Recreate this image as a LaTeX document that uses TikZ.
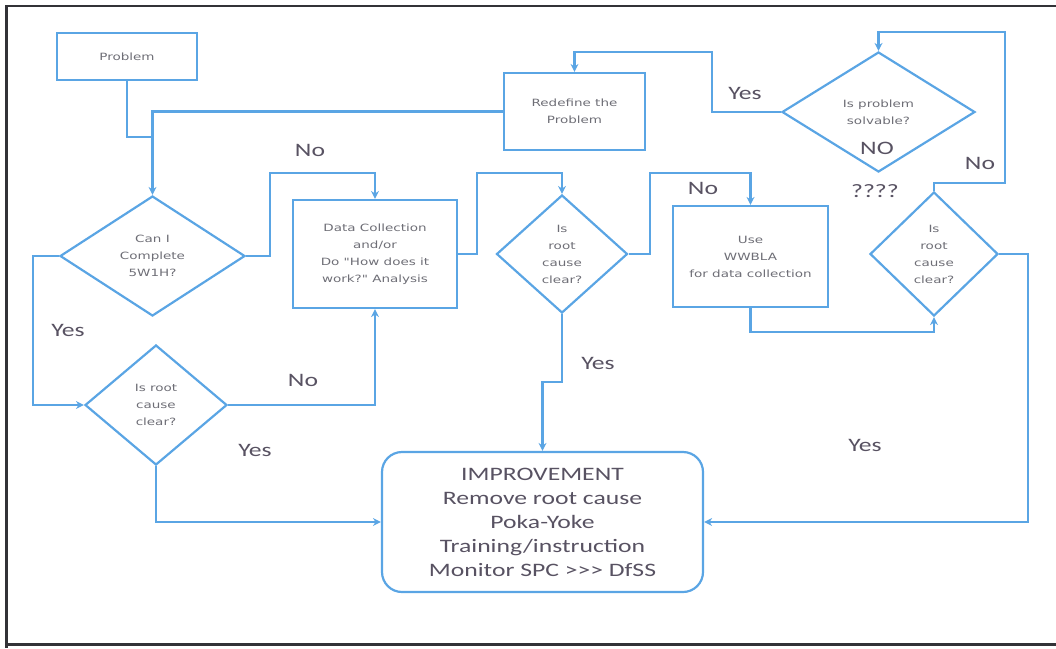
\documentclass[tikz,border=0pt]{standalone}
\usepackage{fontspec}
\usetikzlibrary{shapes.geometric,arrows.meta}
\newfontfamily\boxfont[FakeStretch=1.35]{DejaVu Sans}
\newfontfamily\tagfont[FakeStretch=1.35]{Carlito}
\definecolor{flow}{RGB}{90,165,228}
\definecolor{boxtext}{RGB}{110,110,118}
\definecolor{tagtext}{RGB}{88,82,98}
\definecolor{frame}{RGB}{50,50,55}
\begin{document}
\begin{tikzpicture}[x=1pt,y=-1pt,
  conn/.style={draw=flow,line width=2.2pt},
  arrow/.style={conn,-{Stealth[length=8pt,width=8pt]}},
  smalltext/.style={font=\boxfont\fontsize{10}{17}\selectfont,text=boxtext,align=center},
  stepbox/.style={draw=flow,line width=2.2pt,rectangle,inner sep=0pt,smalltext},
  decision/.style={draw=flow,line width=2.2pt,diamond,inner sep=0pt,smalltext},
  tag/.style={font=\tagfont\fontsize{19}{22}\selectfont,text=tagtext,inner sep=0pt},
]
\useasboundingbox (0,0) rectangle (1056,648);

% page frame
\draw[frame,line width=2pt] (6,6) -- (1056,6);
\draw[frame,line width=3pt] (6,5) -- (6,648);
\draw[frame,line width=3pt] (6,644) -- (1056,644);

% process boxes
\node[stepbox,minimum width=140pt,minimum height=47pt] (problem) at (127,56.5) {Problem};
\node[stepbox,minimum width=141pt,minimum height=77pt] (redef) at (574.5,111.5) {Redefine the\\Problem};
\node[stepbox,minimum width=164pt,minimum height=108pt] (data) at (375,254) {Data Collection\\and/or\\Do "How does it\\work?" Analysis};
\node[stepbox,minimum width=155pt,minimum height=101pt] (wwbla) at (750.5,256.5) {Use\\WWBLA\\for data collection};
\node[draw=flow,line width=2.2pt,rectangle,rounded corners=20pt,inner sep=0pt,
      minimum width=321pt,minimum height=140pt,align=center,
      font=\tagfont\fontsize{19}{24}\selectfont,text=tagtext] (impr) at (542.5,522)
  {IMPROVEMENT\\Remove root cause\\Poka-Yoke\\Training/instruction\\Monitor SPC >>> DfSS};

% decisions
\node[decision,minimum width=185pt,minimum height=120pt] (d1) at (152.5,256) {Can I\\Complete\\5W1H?};
\node[decision,minimum width=142pt,minimum height=120pt] (d2) at (156,405) {Is root\\cause\\clear?};
\node[decision,minimum width=131pt,minimum height=118pt] (d3) at (562,254) {Is\\root\\cause\\clear?};
\node[decision,minimum width=128pt,minimum height=124pt] (d4) at (934,254) {Is\\root\\cause\\clear?};
\node[decision,minimum width=193pt,minimum height=120pt] (d5) at (878.5,112) {Is problem\\solvable?};

% bend points
\coordinate (join) at (151,137);
\coordinate (c1) at (270,173);
\coordinate (c2) at (33,330);
\coordinate (c3) at (477,173);
\coordinate (c4) at (650,173);
\coordinate (c5) at (562,382);
\coordinate (c6) at (850,332);
\coordinate (c7) at (1005,183);
\coordinate (c8) at (1005,32);
\coordinate (c9) at (1028,400);
\coordinate (c10) at (712,52);

% connectors
\draw[conn] (problem.south) |- (join);
\draw[arrow] (redef.west) -| (d1.north);
\draw[arrow] (d1.east) -| (c1) -| (data.north);
\draw[arrow] (d1.west) -| (c2) |- (d2.west);
\draw[arrow] (d2.east) -| (data.south);
\draw[arrow] (d2.south) |- (impr.west);
\draw[arrow] (data.east) -| (c3) -| (d3.north);
\draw[arrow] (d3.east) -| (c4) -| (wwbla.north);
\draw[arrow] (d3.south) -- (c5) -| (impr.north);
\draw[arrow] (wwbla.south) |- (c6) -| (d4.south);
\draw[arrow] (d4.north) |- (c7) -- (c8) -| (d5.north);
\draw[arrow] (d4.east) -| (c9) |- (impr.east);
\draw[arrow] (d5.west) -| (c10) -| (redef.north);

% branch labels
\node[tag] (l1) at (310,150) {No};
\node[tag] (l2) at (68,330) {Yes};
\node[tag] (l3) at (303,380) {No};
\node[tag] (l4) at (255,450) {Yes};
\node[tag] (l5) at (703,188) {No};
\node[tag] (l6) at (598,363) {Yes};
\node[tag] (l7) at (745,93) {Yes};
\node[tag] (l8) at (877,148) {NO};
\node[tag] (l9) at (875,191) {????};
\node[tag] (l10) at (980,163) {No};
\node[tag] (l11) at (865,445) {Yes};
\end{tikzpicture}
\end{document}
